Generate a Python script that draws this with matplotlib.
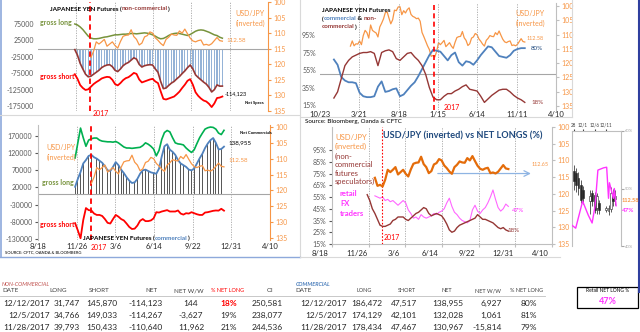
import numpy as np
import pandas as pd
import matplotlib
matplotlib.use("Agg")
import matplotlib.pyplot as plt
from matplotlib.ticker import FuncFormatter
from matplotlib.transforms import ScaledTranslation
from matplotlib.patches import Rectangle

plt.rcParams['font.family'] = ['Lato', 'DejaVu Sans']
plt.rcParams['axes.unicode_minus'] = False

# ---------------- data ----------------
# weekly COT report dates (thousands of contracts)
cot_weeks = pd.date_range('2016-11-22', '2017-12-12', freq='7D')

nc_long = [75, 72, 66, 58, 48, 38, 32, 30, 30, 31, 33, 35, 36, 38, 40, 42, 42, 43, 44, 44,
           45, 46, 46, 45, 46, 47, 48, 47, 45, 42, 38, 33, 30, 31, 35, 40, 44, 46, 47, 46,
           44, 42, 40, 43, 48, 53, 56, 57, 56, 53, 50, 46, 42, 39.793, 34.766, 31.747]
nc_short = [78, 92, 111, 120, 126, 124, 116, 108, 102, 97, 91, 88, 86, 87, 95, 108, 112, 105, 96, 90,
            87, 81, 74, 77, 94, 103, 100, 97, 94, 92, 100, 105, 130, 153, 155, 152, 149, 146, 139, 131,
            120, 110, 98, 93, 110, 133, 144, 152, 158, 161, 168, 178, 167, 150.433, 149.033, 145.870]
nc_net = [-3, -20, -45, -62, -78, -86, -84, -78, -72, -66, -58, -53, -50, -49, -55, -66, -70, -62, -52, -46,
          -42, -35, -28, -32, -48, -56, -52, -50, -49, -50, -62, -72, -100, -122, -120, -112, -105, -100, -92, -85,
          -76, -68, -58, -50, -62, -80, -88, -95, -102, -108, -118, -132, -125, -110.640, -114.267, -114.123]
nc_pct = [49, 44, 37, 33, 28, 23, 22, 22, 23, 24, 27, 28, 30, 30, 30, 28, 27, 29, 31, 33,
          34, 36, 38, 37, 33, 31, 32, 33, 32, 31, 28, 24, 19, 17, 18, 21, 23, 24, 25, 26,
          27, 28, 29, 32, 30, 28, 28, 27, 26, 25, 23, 21, 20, 21, 19, 18]

c_long = [106, 150, 193, 165, 140, 158, 162, 164, 164, 158, 155, 154, 153, 153, 152, 154, 150, 144, 138, 135,
          135, 134, 135, 136, 137, 142, 150, 146, 140, 132, 112, 128, 160, 180, 186, 182, 165, 150, 147, 146,
          144, 135, 128, 122, 130, 148, 165, 178, 190, 194, 196, 195, 190, 178.434, 174.129, 186.472]
c_short = [84, 105, 128, 75, 40, 46, 47, 56, 60, 60, 63, 72, 83, 85, 72, 60, 65, 72, 76, 85,
           95, 101, 100, 91, 77, 72, 78, 78, 76, 70, 52, 53, 50, 48, 46, 50, 50, 50, 47, 56,
           59, 55, 56, 52, 55, 58, 60, 60, 53, 52, 50, 48, 47, 47.467, 42.101, 47.517]
c_net = [22, 45, 65, 90, 100, 112, 115, 108, 104, 98, 92, 82, 70, 68, 80, 94, 85, 72, 62, 50,
         40, 33, 35, 45, 60, 70, 72, 68, 64, 62, 60, 75, 110, 140, 146, 130, 124, 115, 100, 90,
         85, 80, 72, 70, 75, 90, 105, 118, 135, 148, 158, 164, 150, 130.967, 132.028, 138.955]

# bi-weekly % net long, Dec 2015 - Dec 2017
pct_dates = pd.date_range('2015-12-15', '2017-12-12', freq='14D')
comm_pct = [67, 61, 47, 43, 41, 41, 40, 29, 25, 24, 24, 25, 36, 42, 30, 31, 33, 34, 25, 27,
            32, 37, 41, 48, 56, 64, 72, 78, 77, 76, 71, 66, 72, 75, 64, 60, 65, 64, 61, 66,
            72, 77, 82, 81, 76, 71, 70, 69, 72, 77, 79, 80, 80]
spec_pct = [23, 30, 45, 60, 66, 70, 72, 74, 75, 75, 76, 74, 60, 75, 77, 78, 76, 68, 66, 70,
            74, 75, 70, 66, 60, 50, 35, 24, 21, 21, 25, 28, 28, 31, 33, 36, 38, 33, 32, 31,
            25, 18, 22, 26, 29, 32, 33, 33, 30, 26, 23, 21, 18]

# weekly USD/JPY
fx_weeks = pd.date_range('2016-02-16', '2017-12-12', freq='7D')
usdjpy = [114.0, 112.2, 113.9, 113.2, 113.3, 112.2, 113.5, 110.3, 108.5, 109.3,
          111.2, 106.6, 108.5, 109.0, 109.4, 110.8, 107.3, 106.0, 104.5, 102.3,
          102.0, 104.2, 106.2, 104.8, 101.4, 101.6, 100.3, 100.2, 103.0, 101.6,
          102.4, 101.2, 100.6, 102.9, 103.6, 103.9, 104.4, 104.2, 105.3, 109.2,
          110.7, 112.3, 113.9, 115.2, 117.6, 117.3,
          117.8, 115.8, 112.8, 113.5, 112.8, 112.0, 114.2, 113.5, 112.8, 114.0,
          114.8, 112.7, 111.0, 110.7, 110.6, 108.9, 111.1, 112.0, 113.8, 113.2,
          111.2, 110.8, 109.6, 110.0, 111.5, 112.3, 113.3, 114.0, 112.0, 111.3,
          110.3, 110.6, 110.7, 109.3, 110.0, 108.7, 110.2, 111.6, 112.5, 112.8,
          112.4, 112.2, 113.8, 113.6, 113.9, 113.4, 112.4, 111.4, 112.4, 112.58]

# weekly retail FX traders % net long
retail_weeks = pd.date_range('2016-12-13', '2017-12-12', freq='7D')
retail_pct = [56, 55, 54, 55, 52, 53, 51, 52, 50, 48, 50, 52, 50, 44, 41, 37, 38, 36, 40, 38,
              37, 38, 39, 41, 40, 42, 43, 45, 50, 54, 47, 42, 40, 37, 35, 34, 33, 35, 44, 48,
              43, 41, 44, 46, 50, 55, 61, 53, 46, 43, 45, 49, 47]

# last two weeks: candles (session slots) and retail %
candle_slot = [0, 1, 2, 3, 4, 7, 8, 9, 10, 11, 14, 15, 16, 17, 18]
c_open = [111.6, 111.8, 111.97, 112.63, 112.52, 112.41, 112.69, 113.19, 112.41, 113.19, 113.08, 113.1, 112.24, 112.69, 112.41]
c_close = [111.0, 111.15, 111.41, 111.8, 112.08, 112.69, 112.24, 112.36, 113.08, 112.8, 113.19, 113.24, 113.13, 112.41, 112.58]
c_lo = [110.7, 110.86, 111.08, 111.52, 111.86, 112.08, 112.08, 112.19, 112.24, 112.63, 112.97, 112.9, 111.9, 112.0, 112.1]
c_hi = [112.1, 112.19, 112.36, 112.8, 112.86, 113.41, 112.97, 113.36, 113.41, 113.41, 113.3, 113.45, 113.3, 113.0, 112.9]
recent_slot = [-0.8, 0.8, 3.8, 6.2, 7.9, 9.2, 10.4, 12.9, 14.2, 15.0, 15.4, 17.1, 17.5, 18.3]
recent_retail = [43.6, 43.1, 47.8, 45.4, 44.0, 47.0, 53.2, 53.6, 53.7, 48.3, 51.0, 48.3, 50.0, 47.0]
slot_ticks = [0, 4, 9, 14]
slot_labels = ['28', '12/1', '12/6', '12/11']

# table
tab_dates = ['12/12/2017', '12/5/2017', '11/28/2017']
nc_long_t = [31747, 34766, 39793]
nc_short_t = [145870, 149033, 150433]
nc_net_t = [-114123, -114267, -110640]
nc_ww = [144, -3627, 11962]
nc_pct_t = [18, 19, 21]
nc_oi = [250581, 238077, 244536]
c_long_t = [186472, 174129, 178434]
c_short_t = [47517, 42101, 47467]
c_net_t = [138955, 132028, 130967]
c_ww = [6927, 1061, -15814]
c_pct_t = [80, 81, 79]
retail_now = 47

# ---------------- style ----------------
W, H = 640, 332
ORANGE = '#F79646'
DORANGE = '#E46C0A'
DRED = '#953735'
BLUE = '#4F81BD'
GRID = '#A6A6A6'
TICK = '#595959'
MAGENTA = '#FF66FF'

fig = plt.figure(figsize=(6.4, 3.32), dpi=100)


def px_box(l, t, r, b):
    return [l / W, 1 - b / H, (r - l) / W, (b - t) / H]


def k(vals, sign=1):
    return [sign * v * 1000 for v in vals]


y2017 = pd.Timestamp('2017-01-01')


def time_axis(ax, ticks, labels=True, red_lw=1.3, red_ls=(0, (3, 2))):
    ax.set_xlim(ticks[0], ticks[-1])
    ax.set_xticks(ticks)
    ax.set_xticklabels([f"{d.month}/{d.day}" for d in ticks])
    ax.tick_params(axis='x', length=0, pad=2, labelsize=5.5, labelcolor='#262626',
                   labelbottom=labels)
    for d in ticks[1:-1]:
        ax.axvline(d, color=GRID, lw=0.6, ls=(0, (1.5, 1.5)), zorder=0)
    ax.axvline(y2017, color='#FF0000', lw=red_lw, ls=red_ls, zorder=6)


def hide(ax, keep=()):
    for s in ax.spines:
        ax.spines[s].set_visible(s in keep)


def right_fx(ax, lo, hi, spine_color):
    axr = ax.twinx()
    axr.set_ylim(hi, lo)
    axr.set_yticks(range(100 if lo < 104 else 104, 136, 5))
    axr.tick_params(axis='y', labelsize=5, colors=ORANGE, length=2, pad=2)
    axr.tick_params(axis='y', color=spine_color)
    hide(axr, keep=('right',))
    axr.spines['right'].set_color(spine_color)
    axr.spines['right'].set_linewidth(0.8)
    return axr


pct_fmt = FuncFormatter(lambda v, p: f"{v * 100:.0f}%")
ticks100 = pd.date_range('2016-08-18', periods=7, freq='100D')
ticks150 = pd.date_range('2015-10-23', periods=7, freq='150D')

# ---- panel 1 : non-commercial ----
ax1 = fig.add_axes(px_box(38, 2, 268, 111))
ax1.bar(cot_weeks, k(nc_net), width=3.5, color='#95B3D7', zorder=1)
ax1.axhline(0, color=GRID, lw=0.8, zorder=2)
ax1.plot(cot_weeks, k(nc_long), color='#77933C', lw=1.1, zorder=3)
ax1.plot(cot_weeks, k(nc_short, -1), color='#FF0000', lw=1.3, zorder=3)
ax1.plot(cot_weeks, k(nc_net), color=DRED, lw=1.2, zorder=3)
ax1.set_ylim(-190000, 142000)
ax1.set_yticks(np.arange(-175000, 75001, 50000))
ax1.yaxis.set_major_formatter(FuncFormatter(lambda v, p: f"{v:.0f}"))
ax1.tick_params(axis='y', labelsize=5, colors=TICK, length=0, pad=3)
time_axis(ax1, ticks100, labels=False)
hide(ax1)
ax1r = right_fx(ax1, 101.6, 134, ORANGE)
ax1r.plot(fx_weeks[46:], usdjpy[46:], color=ORANGE, lw=0.9)

# ---- panel 3 : commercial ----
ax3 = fig.add_axes(px_box(38, 125, 270, 240))
ax3.bar(cot_weeks, k(c_net), width=2.0, color='#595959', zorder=1)
ax3.axhline(0, color=GRID, lw=0.8, zorder=2)
ax3.plot(cot_weeks, k(c_long), color='#00B050', lw=1.2, zorder=3)
ax3.plot(cot_weeks, k(c_short, -1), color='#FF0000', lw=1.3, zorder=3)
ax3.plot(cot_weeks, k(c_net), color=BLUE, lw=1.3, zorder=3)
ax3.set_ylim(-133000, 202000)
ax3.set_yticks(np.arange(-130000, 170001, 50000))
ax3.yaxis.set_major_formatter(FuncFormatter(lambda v, p: f"{v:.0f}"))
ax3.tick_params(axis='y', labelsize=5, colors=TICK, length=2, pad=2)
time_axis(ax3, ticks100)
hide(ax3, keep=('left',))
ax3.spines['left'].set_color('#BFBFBF')
ax3r = right_fx(ax3, 99.4, 135.6, ORANGE)
ax3r.plot(fx_weeks[46:], usdjpy[46:], color=ORANGE, lw=0.9)

# ---- panel 2 : % net long, commercial vs non-commercial ----
ax2 = fig.add_axes(px_box(320, 3, 556, 110))
ax2.axhline(0.5, color=GRID, lw=0.8, zorder=1)
ax2r = right_fx(ax2, 98.9, 136.4, '#BFBFBF')
ax2r.plot(fx_weeks, usdjpy, color=ORANGE, lw=0.9, zorder=2)
ax2.set_zorder(ax2r.get_zorder() + 1)
ax2.patch.set_visible(False)
ax2.plot(pct_dates, [v / 100 for v in comm_pct], color=BLUE, lw=1.3, zorder=3)
ax2.plot(pct_dates, [v / 100 for v in spec_pct], color=DRED, lw=1.0, zorder=3)
ax2.set_ylim(0.093, 1.316)
ax2.set_yticks([0.15, 0.35, 0.55, 0.75, 0.95])
ax2.yaxis.set_major_formatter(pct_fmt)
ax2.tick_params(axis='y', labelsize=5, colors=TICK, length=0, pad=3)
time_axis(ax2, ticks150, red_lw=1.2)
ax2.tick_params(axis='x', pad=1)
hide(ax2)

# ---- panel 4 : USD/JPY vs net longs ----
ax4 = fig.add_axes(px_box(332, 127, 552, 244))
ax4.plot(retail_weeks, [v / 100 for v in retail_pct], color=MAGENTA, lw=0.8, zorder=3)
ax4.set_ylim(0.15, 1.146)
ax4.set_yticks(np.arange(0.15, 0.96, 0.1))
ax4.yaxis.set_major_formatter(pct_fmt)
ax4.tick_params(axis='y', labelsize=5, colors=TICK, length=2, pad=2)
time_axis(ax4, ticks100, red_lw=0.8, red_ls=(0, (1.5, 1.5)))
ax4.tick_params(axis='x', length=2, color='#BFBFBF')
shift = ScaledTranslation(-0.12, 0, fig.dpi_scale_trans)
for lab in ax4.get_xticklabels():
    lab.set_transform(lab.get_transform() + shift)
hide(ax4, keep=('left', 'bottom'))
ax4.spines['left'].set_color('#BFBFBF')
ax4.spines['bottom'].set_color('#BFBFBF')
ax4s = ax4.twinx()
ax4s.plot(cot_weeks, [v / 100 for v in nc_pct], color=DRED, lw=1.0)
ax4s.set_ylim(0.07, 1.066)
ax4s.set_yticks([])
hide(ax4s)
ax4r = right_fx(ax4, 100, 135, '#BFBFBF')
ax4r.plot(fx_weeks[43:], usdjpy[43:], color=DORANGE, lw=1.6)
ax4.annotate('', xy=(pd.Timestamp('2018-02-19'), 0.75), xytext=(pd.Timestamp('2017-05-26'), 0.75),
             arrowprops=dict(arrowstyle='->', color='#8EB4E3', lw=0.9), zorder=7)

# ---- panel 5 : last sessions ----
ax5 = fig.add_axes(px_box(572, 131, 621, 246))
for s, o, c, lo, hi in zip(candle_slot, c_open, c_close, c_lo, c_hi):
    ax5.vlines(s, lo, hi, color='#404040', lw=0.6, zorder=2)
    ax5.bar(s, c - o, bottom=o, width=0.8, color='#262626' if c < o else 'white',
            edgecolor='#262626', lw=0.4, zorder=3)
ax5.set_ylim(115.2, 108.8)
ax5.set_xlim(-0.8, 20.4)
ax5.set_yticks([])
ax5.xaxis.tick_top()
ax5.set_xticks(slot_ticks)
ax5.set_xticklabels(slot_labels)
ax5.tick_params(axis='x', labelsize=3.3, colors='#404040', length=1.5, pad=1)
hide(ax5, keep=('left', 'top'))
ax5.spines['left'].set_color('#BFBFBF')
ax5.spines['top'].set_color('#BFBFBF')
ax5r = ax5.twinx()
ax5r.plot(recent_slot, recent_retail, color='#FF33FF', lw=1.0)
ax5r.set_ylim(40, 60)
ax5r.set_yticks([40, 50, 60])
ax5r.yaxis.set_major_formatter(FuncFormatter(lambda v, p: f"{v:.0f}%"))
ax5r.tick_params(axis='y', labelsize=3, colors='#A6A6A6', length=2, pad=1)
hide(ax5r, keep=('right',))
ax5r.spines['right'].set_color('#BFBFBF')

# ---------------- overlay: text and frames ----------------
ov = fig.add_axes([0, 0, 1, 1], zorder=20)
ov.set_xlim(0, W)
ov.set_ylim(H, 0)
ov.axis('off')


def put(x, y, s, size=5, color='black', **kw):
    ov.text(x, y, s, size=size, color=color, va='center', **kw)


def seq(x, y, parts, size=4.6, weight='bold'):
    prev = None
    for s, c in parts:
        if prev is None:
            prev = ov.annotate(s, xy=(x, y), xycoords='data', color=c, size=size,
                               weight=weight, ha='left', va='center', annotation_clip=False)
        else:
            prev = ov.annotate(s, xy=(1, 0.5), xycoords=prev, color=c, size=size,
                               weight=weight, ha='left', va='center', annotation_clip=False)


# frames
ov.plot([1, 1], [0, 257], color='#8EA9DB', lw=1.2)
ov.plot([638.5, 638.5], [0, 292], color='#2F3F9F', lw=1.5)
ov.plot([300, 300], [0, 257], color='#D9D9D9', lw=0.8)
ov.plot([0, 300], [115, 115], color='#D9D9D9', lw=0.8)
ov.plot([300, 572], [117, 117], color='#D9D9D9', lw=0.8)
ov.plot([572, 572], [0, 117], color='#D9D9D9', lw=0.8)
ov.plot([0, 300], [257, 257], color='#8EA9DB', lw=1.0)
ov.plot([300, 560], [257, 257], color='#D9D9D9', lw=0.8)

# panel 1 text
seq(50, 9, [('JAPANESE YEN Futures (', 'black'), ('non-commercial', DRED), (')', 'black')])
put(40, 22, 'gross long', color='#77933C', weight='bold', size=5)
put(40, 77, 'gross short', color='#FF0000', weight='bold', size=5)
put(250, 14, 'USD/JPY', color=ORANGE, size=5, ha='center')
put(250, 23, '(inverted)', color=ORANGE, size=5, ha='center')
put(226, 41, '112.58', color=ORANGE, size=4.5)
put(225, 94, f"{nc_net_t[0]:,}", size=4)
put(245, 103, 'Net Specs', size=3, weight='bold')
put(93, 113, '2017', color='#FF0000', size=5)

# panel 2 text
seq(322, 10, [('JAPANESE YEN Futures', 'black')])
seq(322, 19, [('(', 'black'), ('commercial', BLUE), (' & ', 'black'), ('non-', DRED)])
seq(322, 27, [('commercial', DRED), (')', 'black')])
put(530, 14, 'USD/JPY', color=ORANGE, size=5, ha='center')
put(530, 23, '(inverted)', color=ORANGE, size=5, ha='center')
put(527, 39, '112.58', color=ORANGE, size=4)
put(531, 49, f"{c_pct_t[0]}%", color='#1F497D', size=4.5)
put(531, 103, f"{nc_pct_t[0]}%", color=DRED, size=4.5)
put(444, 108, '2017', color='#FF0000', size=5)

# panel 3 text
put(61, 148, 'USD/JPY', color=ORANGE, size=5, ha='center')
put(61, 157, '(inverted)', color=ORANGE, size=5, ha='center')
put(42, 183, 'gross long', color='#77933C', weight='bold', size=5)
put(40, 225, 'gross short', color='#FF0000', weight='bold', size=5)
seq(83, 238, [('JAPANESE YEN Futures (', 'black'), ('commercial', BLUE), (')', 'black')])
put(240, 133, 'Net Commercials', size=3, weight='bold')
put(228, 143, f"{c_net_t[0]:,}", size=4.5)
put(228, 160, '112.58', color=ORANGE, size=4.5)
put(91, 248, '2017', color='#FF0000', size=5)
put(5, 252, 'SOURCE: CFTC, OANDA & BLOOMBERG', size=3)

# panel 4 text
put(305, 122, 'Source: Bloomberg, Oanda & CFTC', size=4.5)
put(463, 136, 'USD/JPY (inverted) vs NET LONGS (%)', color='#1F497D', size=6.6, weight='bold', ha='center')
put(335, 137, 'USD/JPY', color=ORANGE, size=5.5)
put(335, 146, '(inverted)', color=ORANGE, size=5.5)
for i, s in enumerate(['(non-', 'commercial', 'futures', 'speculators)']):
    put(335, 156 + 8.5 * i, s, color=DRED, size=5.5)
for i, s in enumerate(['retail', 'FX', 'traders']):
    put(340, 194 + 9.5 * i, s, color='#FF33FF', size=5.5, weight='bold')
put(532, 165, '112.65', color=ORANGE, size=4)
put(512, 211, f"{retail_now}%", color='#FF33FF', size=4.5)
put(507, 231, f"{nc_pct_t[0]}%", color=DRED, size=4.5)
put(384, 238, '2017', color='#FF0000', size=5)

# panel 5 text
put(622, 201, '112.58', color=ORANGE, size=4, weight='bold')
put(622, 210, f"{retail_now}%", color='#FF33FF', size=4.5, weight='bold')

# table
put(2, 284, 'NON-COMMERCIAL', color='#C0504D', size=4, style='italic')
put(296, 284, 'COMMERCIAL', color=BLUE, size=4, style='italic', weight='bold')
hdr = dict(size=4.5, color='#404040')
put(2, 291, 'DATE', **hdr)
for x, s in [(58, 'LONG'), (99, 'SHORT'), (151, 'NET'), (189, 'NET W/W'), (270, 'OI')]:
    put(x, 291, s, ha='center', **hdr)
put(228, 291, '% NET LONG', color='#FF0000', size=4, ha='center')
put(295, 291, 'DATE', **hdr)
for x, s in [(364, 'LONG'), (407, 'SHORT'), (447, 'NET'), (488, 'NET W/W'), (527, '% NET LONG')]:
    put(x, 291, s, ha='center', size=4, color='#404040')
ov.plot([0, 545], [296, 296], color='#BFBFBF', lw=0.6)

rs = dict(size=6, color='#262626')
for r in range(3):
    y = 303 + 12 * r
    put(50, y, tab_dates[r], ha='right', **rs)
    put(80, y, f"{nc_long_t[r]:,}", ha='right', **rs)
    put(117, y, f"{nc_short_t[r]:,}", ha='right', **rs)
    put(163, y, f"{nc_net_t[r]:,}", ha='right', **rs)
    put(191, y, f"{nc_ww[r]:,}", ha='center', **rs)
    if r == 0:
        put(229, y, f"{nc_pct_t[r]}%", ha='center', size=6, color='#FF0000', weight='bold')
    else:
        put(229, y, f"{nc_pct_t[r]}%", ha='center', **rs)
    put(283, y, f"{nc_oi[r]:,}", ha='right', **rs)
    put(347, y, tab_dates[r], ha='right', **rs)
    put(382, y, f"{c_long_t[r]:,}", ha='right', **rs)
    put(417, y, f"{c_short_t[r]:,}", ha='right', **rs)
    put(463, y, f"{c_net_t[r]:,}", ha='right', **rs)
    put(502, y, f"{c_ww[r]:,}", ha='right', **rs)
    put(537, y, f"{c_pct_t[r]}%", ha='right', **rs)

ov.add_patch(Rectangle((577, 287), 61, 21, fill=False, ec='black', lw=0.9))
put(607.5, 291, 'Retail NET LONG %', size=3.5, ha='center')
put(607.5, 301, f"{retail_now}%", color='#FF33FF', size=6.5, weight='bold', ha='center')

fig.savefig('out.png', dpi=100, facecolor='white')
